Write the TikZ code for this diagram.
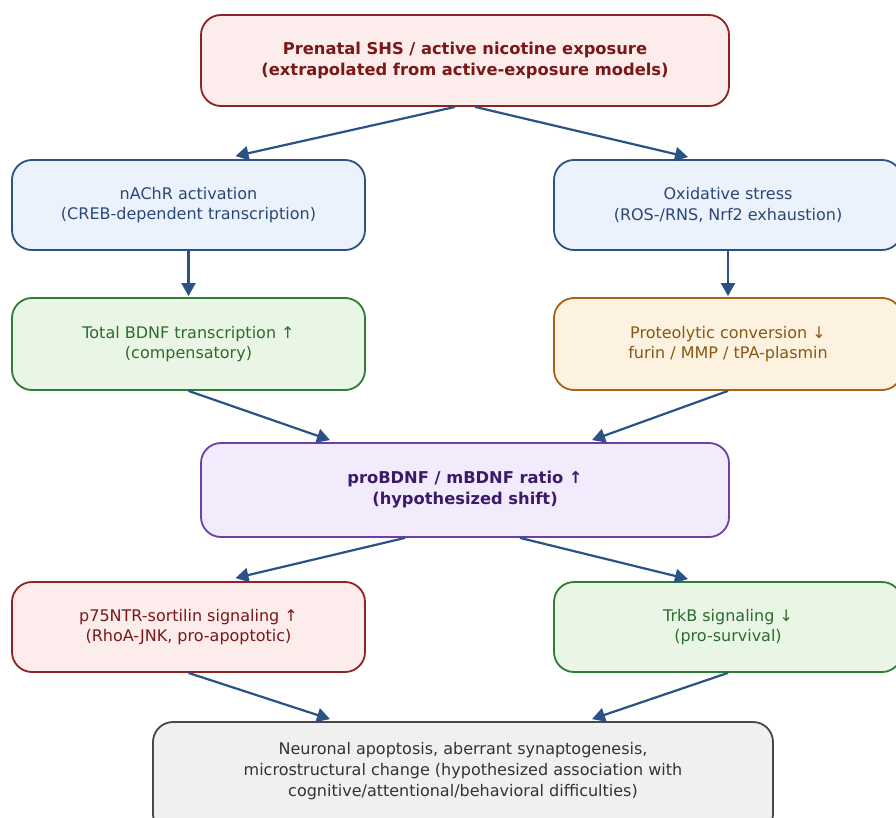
\documentclass[tikz,border=0pt]{standalone}
\usepackage{fontspec}
\setmainfont{DejaVu Sans}
\usetikzlibrary{arrows.meta,calc}
\definecolor{arrowc}{HTML}{2B5287}
\definecolor{redfill}{HTML}{FDECEC}\definecolor{reddraw}{HTML}{8E2323}\definecolor{redtext}{HTML}{7A1717}
\definecolor{bluefill}{HTML}{EBF2FB}\definecolor{bluedraw}{HTML}{2C5183}\definecolor{bluetext}{HTML}{2A4876}
\definecolor{grnfill}{HTML}{E9F5E5}\definecolor{grndraw}{HTML}{2F7D32}\definecolor{grntext}{HTML}{2D6B2E}
\definecolor{orfill}{HTML}{FDF1DF}\definecolor{ordraw}{HTML}{A66318}\definecolor{ortext}{HTML}{875913}
\definecolor{purfill}{HTML}{F2EBFC}\definecolor{purdraw}{HTML}{6B40A8}\definecolor{purtext}{HTML}{3C1A6A}
\definecolor{gryfill}{HTML}{F0F0F0}\definecolor{grydraw}{HTML}{474747}\definecolor{grytext}{HTML}{333333}
\tikzset{
  box/.style={draw, line width=1.8pt, rounded corners=20pt, align=center, inner sep=0pt,
    font=\fontsize{16}{20.5}\selectfont},
  boldbox/.style={box, font=\fontsize{16.3}{21}\selectfont\bfseries},
  arr/.style={draw=arrowc, line width=2.2pt, -{Stealth[length=13pt,width=14pt,inset=0pt]}},
}
\begin{document}
\begin{tikzpicture}[x=1pt,y=-1pt]
\useasboundingbox (0,0) rectangle (896,818);
\fill[white] (0,0) rectangle (896,818);
\node[boldbox, fill=redfill, draw=reddraw, text=redtext, minimum width=528pt, minimum height=91pt] (top) at (465,60.5)
  {Prenatal SHS / active nicotine exposure\\(extrapolated from active-exposure models)};
\node[box, fill=bluefill, draw=bluedraw, text=bluetext, minimum width=353pt, minimum height=90pt] (nach) at (188.5,205)
  {nAChR activation\\(CREB-dependent transcription)};
\node[box, fill=bluefill, draw=bluedraw, text=bluetext, minimum width=348pt, minimum height=90pt] (ox) at (728,205)
  {Oxidative stress\\(ROS-/RNS, Nrf2 exhaustion)};
\node[box, fill=grnfill, draw=grndraw, text=grntext, minimum width=353pt, minimum height=92pt] (bdnf) at (188.5,344)
  {Total BDNF transcription ↑\\(compensatory)};
\node[box, fill=orfill, draw=ordraw, text=ortext, minimum width=348pt, minimum height=92pt] (prot) at (728,344)
  {Proteolytic conversion ↓\\furin / MMP / tPA-plasmin};
\node[boldbox, fill=purfill, draw=purdraw, text=purtext, minimum width=528pt, minimum height=94pt] (ratio) at (465,490)
  {proBDNF / mBDNF ratio ↑\\(hypothesized shift)};
\node[box, fill=redfill, draw=reddraw, text=redtext, minimum width=353pt, minimum height=90pt] (p75) at (188.5,627)
  {p75NTR-sortilin signaling ↑\\(RhoA-JNK, pro-apoptotic)};
\node[box, fill=grnfill, draw=grndraw, text=grntext, minimum width=348pt, minimum height=90pt] (trkb) at (728,627)
  {TrkB signaling ↓\\(pro-survival)};
\node[box, fill=gryfill, draw=grydraw, minimum width=620pt, minimum height=112pt] (out) at (463,778) {};
\node[align=center, inner sep=0pt, text=grytext, font=\fontsize{16}{21}\selectfont] (outtxt) at (463,771)
  {Neuronal apoptosis, aberrant synaptogenesis,\\microstructural change (hypothesized association with\\cognitive/attentional/behavioral difficulties)};
\draw[arr] ($(top.south)+(-10,0)$) -- ($(nach.north)+(47,-3)$);
\draw[arr] ($(top.south)+(10,0)$) -- ($(ox.north)+(-40,-2)$);
\draw[arr] (nach.south) -- ($(bdnf.north)+(0,-1)$);
\draw[arr] (ox.south) -- ($(prot.north)+(0,-1)$);
\draw[arr] (bdnf.south) -- ($(ratio.north)+(-135,-2)$);
\draw[arr] (prot.south) -- ($(ratio.north)+(127,-2)$);
\draw[arr] ($(ratio.south)+(-60,0)$) -- ($(p75.north)+(47,-3)$);
\draw[arr] ($(ratio.south)+(55,0)$) -- ($(trkb.north)+(-40,-2)$);
\draw[arr] (p75.south) -- ($(out.north)+(-133,-2)$);
\draw[arr] (trkb.south) -- ($(out.north)+(129,-2)$);
\end{tikzpicture}
\end{document}
